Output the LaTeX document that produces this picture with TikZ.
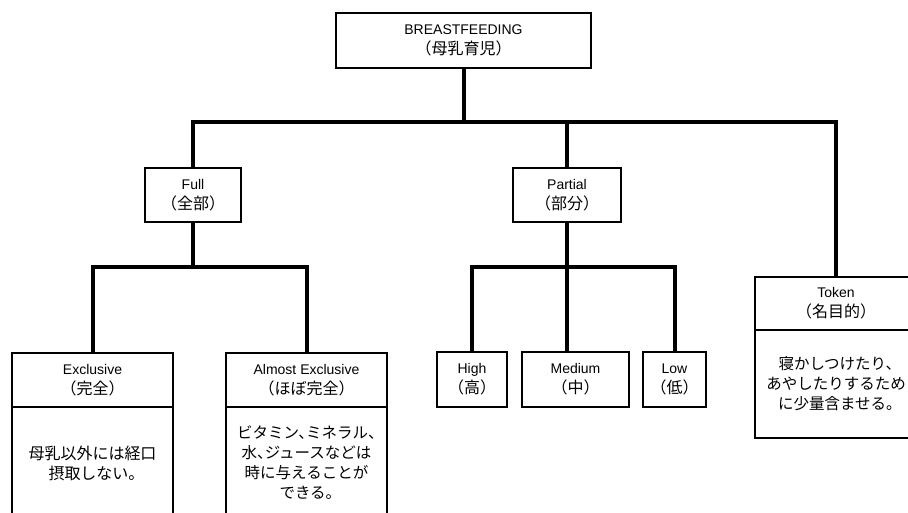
\documentclass[tikz,border=0pt]{standalone}
\usepackage{fontspec}
\setmainfont{Liberation Sans}
\newfontfamily\cjk{Noto Sans CJK JP}
\newfontfamily\cjkb[RawFeature=+halt]{Noto Sans CJK JP}
\newcommand{\jp}[1]{{\cjk\fontsize{16}{20}\selectfont #1}}
\begin{document}
\begin{tikzpicture}[x=1pt,y=-1pt,
  box/.style={draw, line width=2.5pt, align=center, inner sep=0pt,
    font=\fontsize{14}{20}\selectfont},
  headbox/.style={box, execute at begin node={\rule{0pt}{18pt}}},
  bodybox/.style={box, font=\cjkb\fontsize{15.5}{20}\selectfont,
    execute at begin node={\rule{0pt}{20pt}}},
  conn/.style={line width=4pt}]
\useasboundingbox (0,0) rectangle (908,512);
\clip (0,0) rectangle (908,512);

% nodes
\node[headbox, minimum width=255pt, minimum height=55pt] (root) at (463.5,40.5)
  {BREASTFEEDING\\\jp{（母乳育児）}};
\node[headbox, minimum width=96pt, minimum height=54pt] (full) at (193,195)
  {Full\\\jp{（全部）}};
\node[headbox, minimum width=108pt, minimum height=54pt] (partial) at (567,195)
  {Partial\\\jp{（部分）}};

\node[headbox, minimum width=162pt, minimum height=53pt] (tokenh) at (836,303.5)
  {Token\\\jp{（名目的）}};
\node[bodybox, minimum width=162pt, minimum height=108pt] (tokenb) at (836,384)
  {寝かしつけたり、\\あやしたりするため\\に少量含ませる。};

\node[headbox, minimum width=161pt, minimum height=54pt] (exh) at (92.5,380)
  {Exclusive\\\jp{（完全）}};
\node[bodybox, minimum width=161pt, minimum height=112pt, font=\cjkb\fontsize{16}{20}\selectfont] (exb) at (92.5,463)
  {母乳以外には経口\\摂取しない。};

\node[headbox, minimum width=161pt, minimum height=54pt] (aeh) at (306.5,380)
  {Almost Exclusive\\\jp{（ほぼ完全）}};
\node[bodybox, minimum width=161pt, minimum height=112pt] (aeb) at (306.5,463)
  {ビタミン、ミネラル、\\水、ジュースなどは\\時に与えることが\\できる。};

\node[headbox, minimum width=70pt, minimum height=55pt] (high) at (472,379.5)
  {High\\\jp{（高）}};
\node[headbox, minimum width=107pt, minimum height=55pt] (medium) at (575.5,379.5)
  {Medium\\\jp{（中）}};
\node[headbox, minimum width=63pt, minimum height=55pt] (low) at (674.5,379.5)
  {Low\\\jp{（低）}};

% connectors
\coordinate (bus1) at (465,122);
\coordinate (bus2) at (0,267);
\draw[conn] (root.south) -- (root.south |- bus1);
\draw[conn] (full.north) |- (tokenh.north |- bus1) -- (tokenh.north);
\draw[conn] (partial.north) -- (partial.north |- bus1);

\draw[conn] (full.south) -- (full.south |- bus2);
\draw[conn] (exh.north) |- (aeh.north |- bus2) -- (aeh.north);

\draw[conn] (partial.south) -- (partial.south |- medium.north);
\draw[conn] (high.north) |- (low.north |- bus2) -- (low.north);
\end{tikzpicture}
\end{document}
